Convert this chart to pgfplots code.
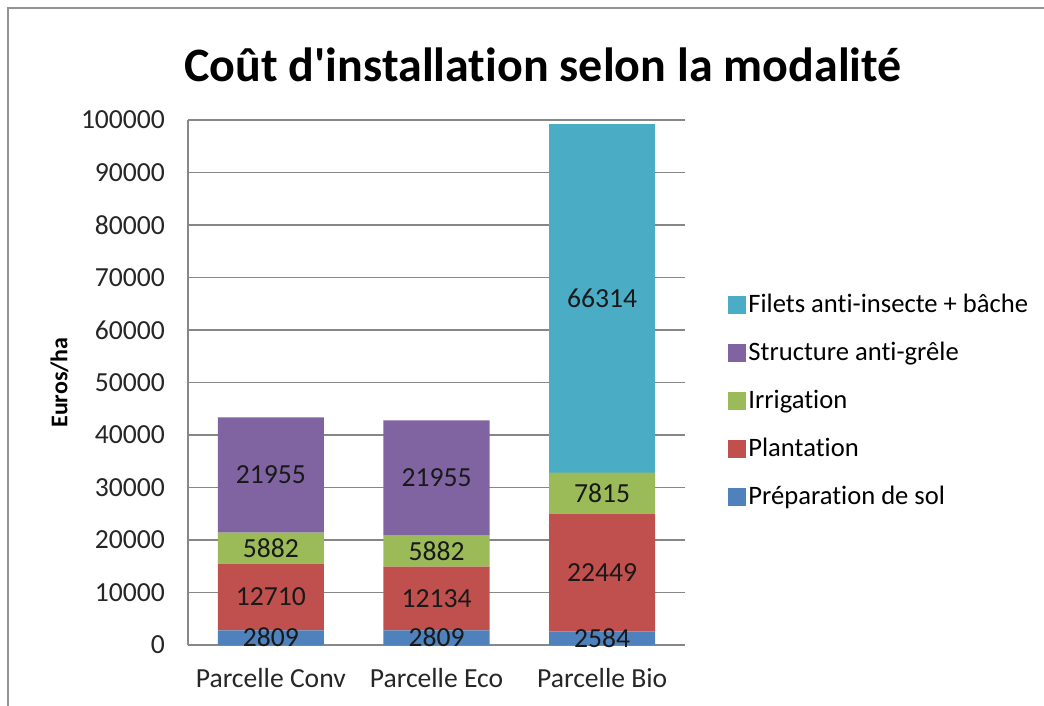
\documentclass[border=0pt]{standalone}
\usepackage{fontspec}
\setmainfont{Carlito}[Ligatures={TeX,NoCommon}]
\usepackage{pgfplots}
\pgfplotsset{compat=1.18}

\definecolor{xlblue}{HTML}{4F81BD}
\definecolor{xlred}{HTML}{C0504D}
\definecolor{xlgreen}{HTML}{9BBB59}
\definecolor{xlpurple}{HTML}{8064A2}
\definecolor{xlcyan}{HTML}{4BACC6}
\definecolor{xlgrid}{HTML}{878787}

\begin{document}
\begin{tikzpicture}
\begin{axis}[
  at={(94pt,-322.5pt)}, anchor=south west,
  scale only axis,
  width=248.5pt, height=262.5pt,
  ybar stacked,
  bar width=53pt,
  xmin=-0.5, xmax=2.5,
  ymin=0, ymax=100000,
  xtick={0,1,2},
  xticklabels={Parcelle Conv, Parcelle Eco, Parcelle Bio},
  ytick={0,10000,...,100000},
  scaled y ticks=false,
  /pgf/number format/fixed,
  /pgf/number format/precision=0,
  /pgf/number format/assume math mode=true,
  /pgf/number format/set thousands separator={},
  major tick length=0pt,
  axis lines*=left,
  axis line style={draw=xlgrid, line width=0.8pt, -},
  ymajorgrids,
  grid style={draw=xlgrid, line width=0.8pt},
  tick label style={font=\fontsize{13.8}{16}\selectfont, text=black!85},
  yticklabel style={xshift=-8pt},
  xticklabel style={yshift=-8pt},
  ylabel={\fontsize{12}{14}\selectfont\bfseries Euros/ha},
  every axis y label/.style={at={(rel axis cs:-0.2585,0.5)}, rotate=90, anchor=center},
  every axis plot/.append style={draw=none},
  nodes near coords={\pgfmathfloatifflags{\pgfplotspointmeta}{0}{}{\pgfmathprintnumber{\pgfplotspointmeta}}},
  every node near coord/.append style={font=\fontsize{13.8}{16}\selectfont, text=black!90, anchor=center},
  legend image code/.code={\fill[#1] (0pt,-4.5pt) rectangle (9pt,4.5pt);},
  reverse legend,
  legend cell align=left,
  legend style={draw=none, fill=none, at={(rel axis cs:1.0865,0.464)}, anchor=west,
    inner sep=0pt, row sep=10pt,
    font=\fontsize{13.3}{16}\selectfont,
    nodes={inner sep=1pt, text height=9.5pt, text depth=2.5pt}},
]
\addplot[fill=xlblue] coordinates {(0,2809) (1,2809) (2,2584)};
\addplot[fill=xlred] coordinates {(0,12710) (1,12134) (2,22449)};
\addplot[fill=xlgreen] coordinates {(0,5882) (1,5882) (2,7815)};
\addplot[fill=xlpurple] coordinates {(0,21955) (1,21955) (2,0)};
\addplot[fill=xlcyan] coordinates {(0,0) (1,0) (2,66314)};
\legend{Préparation de sol, Plantation, Irrigation, Structure anti-grêle, Filets anti-insecte + bâche}
\end{axis}
\node[font=\fontsize{24}{28}\selectfont\bfseries, anchor=base] at (271.5pt,-41pt) {Coût d\textquotesingle installation selon la modalité};
\draw[xlgrid!90, line width=0.7pt] (4pt,-353pt) -- (4pt,-4pt) -- (522pt,-4pt);
\pgfresetboundingbox
\useasboundingbox (0,0) rectangle (522pt,-353pt);
\end{tikzpicture}
\end{document}
